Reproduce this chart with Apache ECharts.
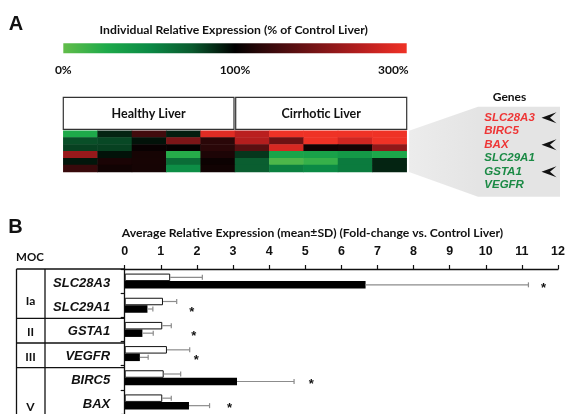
<!DOCTYPE html>
<html>
<head>
<meta charset="utf-8">
<script src="https://cdn.jsdelivr.net/npm/echarts@6/dist/echarts.min.js"></script>
<style>
  html, body { margin: 0; padding: 0; background: #fff; }
  #chart { width: 568px; height: 414px; }
</style>
</head>
<body>
<div id="chart"></div>
<script>
// ---- Panel A: individual relative expression (% of control liver) ----
const samples = ['H1', 'H2', 'H3', 'H4', 'H5', 'C1', 'C2', 'C3', 'C4', 'C5'];
const heatGenes = ['SLC28A3', 'BIRC5', 'BAX', 'SLC29A1', 'GSTA1', 'VEGFR'];
const heatValues = [
  [25, 90, 150, 92, 285, 250, 300, 300, 300, 300],   // SLC28A3
  [78, 80, 95, 198, 130, 245, 185, 300, 270, 300],   // BIRC5
  [82, 82, 106, 104, 130, 170, 275, 112, 115, 215],  // BAX
  [222, 95, 115, 22, 120, 85, 30, 32, 38, 27],       // SLC29A1
  [94, 118, 116, 65, 108, 73, 8, 16, 58, 90],        // GSTA1
  [142, 112, 115, 47, 112, 73, 55, 50, 58, 90]       // VEGFR
];
const scaleTickValues = [0, 100, 300];
const scaleTickLabels = ['0%', '100%', '300%'];
// colour ramp, evenly spaced from 0 to 300 %
const scaleColors = ['#62bd4a', '#1eaa4a', '#0b8a45', '#0a5a2e', '#000000', '#240607', '#420b0d',
                     '#601012', '#7e1517', '#9c1a1b', '#ba1f1f', '#d62822', '#ef3226'];
const geneListRed = ['SLC28A3', 'BIRC5', 'BAX'];
const geneListGreen = ['SLC29A1', 'GSTA1', 'VEGFR'];
const markedGenes = ['SLC28A3', 'BAX', 'GSTA1'];

// ---- Panel B: average relative expression (fold-change vs. control liver) ----
const barGenes = ['SLC28A3', 'SLC29A1', 'GSTA1', 'VEGFR', 'BIRC5', 'BAX'];
const healthyMean = [1.26, 1.06, 1.04, 1.17, 1.08, 1.04];
const healthySD = [0.89, 0.38, 0.25, 0.63, 0.47, 0.25];
const cirrhoticMean = [6.67, 0.63, 0.49, 0.42, 3.11, 1.78];
const cirrhoticSD = [4.51, 0.15, 0.30, 0.23, 1.58, 0.57];
const starX = [11.6, 1.86, 1.91, 1.98, 5.17, 2.90];
const axisTicks = [0, 12, 1];
const mocLabels = ['Ia', 'II', 'III', 'V'];
const mocGroupEnds = [2, 3, 4];   // row index where a new MOC group starts

// ---- layout ----
const HEAD = 'Lato, "Open Sans", sans-serif';
const ARIAL = '"Liberation Sans", Arial, sans-serif';
const heatBox = { left: 63.3, top: 130.7, width: 343.4, height: 41.3 };
const barBox = { left: 124.7, top: 269, width: 435.6, height: 148 };
const BAR_W = 7.5;
const band = barBox.height / barGenes.length;

const chart = echarts.init(document.getElementById('chart'), null, { renderer: 'canvas' });

// colour-bar gradient: 0-100 % fills the left half, 100-300 % the right half
function scaleFrac(v) { return v <= 100 ? v / 200 : 0.5 + (v - 100) / 400; }
const gradStops = scaleColors.map((c, i) => ({
  offset: scaleFrac(i * 300 / (scaleColors.length - 1)), color: c
}));

const heatData = [];
heatValues.forEach((row, r) => row.forEach((v, c) => heatData.push([c, r, v])));

function errorBars(sign) {
  return function (params, api) {
    const idx = api.value(1);
    const a = api.coord([api.value(0), idx]);
    const b = api.coord([api.value(2), idx]);
    const y = a[1] + sign * BAR_W / 2;
    const st = { stroke: '#8c8c8c', lineWidth: 1.2 };
    return {
      type: 'group', children: [
        { type: 'line', shape: { x1: a[0], y1: y, x2: b[0], y2: y }, style: st },
        { type: 'line', shape: { x1: b[0], y1: y - 2.5, x2: b[0], y2: y + 2.5 }, style: st }
      ]
    };
  };
}

const g = [];
const txt = (text, x, y, font, fill, align) => g.push({
  type: 'text', x, y, silent: true,
  style: { text, font, fill: fill || '#111', align: align || 'center', verticalAlign: 'middle' }
});

// panel letters
txt('A', 16, 24.7, 'bold 20px ' + ARIAL, '#111');
txt('B', 15.5, 227, 'bold 20px ' + ARIAL, '#111');

// colour scale
txt('Individual Relative Expression (% of Control Liver)', 233.7, 30, 'bold 12.2px ' + HEAD);
g.push({
  type: 'rect', silent: true,
  shape: { x: heatBox.left, y: 43.3, width: heatBox.width, height: 10 },
  style: { fill: new echarts.graphic.LinearGradient(0, 0, 1, 0, gradStops) }
});
scaleTickValues.forEach((v, i) => {
  const f = scaleFrac(v);
  const x = heatBox.left + f * heatBox.width + (f === 1 ? 2 : 0);
  txt(scaleTickLabels[i], x, 70, 'bold 12px ' + HEAD, '#111', f === 1 ? 'right' : 'center');
});

// group boxes above the heat map
const half = heatBox.width / 2;
[['Healthy Liver', heatBox.left, half - 1], ['Cirrhotic Liver', heatBox.left + half + 0.7, half - 0.7]]
  .forEach(([label, x, w]) => {
    g.push({ type: 'rect', silent: true, shape: { x, y: 97.3, width: w, height: 32 },
      style: { fill: '#fff', stroke: '#333', lineWidth: 1.2 } });
    txt(label, x + w / 2, 114, 'bold 12.5px ' + HEAD);
  });

// gene key callout
const hb = heatBox.top + heatBox.height;
g.push({ type: 'polygon', silent: true,
  shape: { points: [[409, heatBox.top], [478, 106.7], [478, 196.7], [409, hb]] },
  style: { fill: new echarts.graphic.LinearGradient(0, 0, 1, 0,
    [{ offset: 0, color: '#ececec' }, { offset: 1, color: '#e4e4e4' }]) } });
g.push({ type: 'rect', silent: true, shape: { x: 478, y: 106.7, width: 82, height: 90 },
  style: { fill: '#e4e4e4' } });
txt('Genes', 509.5, 97, 'bold 12px ' + HEAD);
const keyGenes = geneListRed.concat(geneListGreen);
keyGenes.forEach((name, i) => {
  const y = 117.8 + i * 13.5;
  txt(name, 484.3, y, 'italic bold 11.5px ' + ARIAL,
      geneListRed.includes(name) ? '#ee3535' : '#1b8a45', 'left');
  if (markedGenes.includes(name)) {
    g.push({ type: 'polygon', silent: true,
      shape: { points: [[541.5, y], [556.5, y - 5.5], [550, y], [556.5, y + 5.5]] },
      style: { fill: '#111' } });
  }
});

// panel B headings
txt('Average Relative Expression (mean±SD) (Fold-change vs. Control Liver)', 121.7, 233.5,
    'bold 12.2px ' + HEAD, '#111', 'left');
txt('MOC', 30, 257.5, 'bold 11.5px ' + HEAD);

// MOC table left of the bar chart
const tl = 16.5, tr = barBox.left;
const lineSt = { stroke: '#111', lineWidth: 1.3 };
g.push({ type: 'line', silent: true, shape: { x1: tl, y1: barBox.top, x2: tr, y2: barBox.top }, style: lineSt });
g.push({ type: 'line', silent: true, shape: { x1: tl, y1: barBox.top, x2: tl, y2: 420 }, style: lineSt });
g.push({ type: 'line', silent: true, shape: { x1: 45, y1: barBox.top, x2: 45, y2: 420 }, style: lineSt });
mocGroupEnds.forEach(k => {
  const y = barBox.top + k * band;
  g.push({ type: 'line', silent: true, shape: { x1: tl, y1: y, x2: tr, y2: y }, style: lineSt });
});
const mocY = [301, 331.7, 356.7, 406.7];
mocLabels.forEach((m, i) => txt(m, 30.5, mocY[i], 'bold 12px ' + HEAD));

chart.setOption({
  animation: false,
  backgroundColor: '#fff',
  grid: [
    { left: heatBox.left, top: heatBox.top, width: heatBox.width, height: heatBox.height },
    { left: barBox.left, top: barBox.top, width: barBox.width, height: barBox.height }
  ],
  xAxis: [
    { gridIndex: 0, type: 'category', data: samples, show: false },
    {
      gridIndex: 1, type: 'value', position: 'top',
      min: axisTicks[0], max: axisTicks[1], interval: axisTicks[2],
      axisLine: { show: true, lineStyle: { color: '#111', width: 1.3 } },
      axisTick: { show: true, length: 4, lineStyle: { color: '#111', width: 1.2 } },
      axisLabel: { margin: 11, color: '#111', fontWeight: 'bold', fontSize: 12.5, fontFamily: ARIAL },
      splitLine: { show: false }
    }
  ],
  yAxis: [
    { gridIndex: 0, type: 'category', data: heatGenes, inverse: true, show: false },
    {
      gridIndex: 1, type: 'category', data: barGenes, inverse: true,
      axisLine: { show: true, lineStyle: { color: '#111', width: 1.3 } },
      axisTick: { show: true, length: 4, lineStyle: { color: '#111', width: 1.2 } },
      axisLabel: { show: false }
    }
  ],
  visualMap: {
    show: false, type: 'continuous', seriesIndex: 0, dimension: 2,
    min: 0, max: 300, inRange: { color: scaleColors }
  },
  graphic: { elements: g },
  series: [
    {
      type: 'heatmap', xAxisIndex: 0, yAxisIndex: 0, data: heatData,
      itemStyle: { borderWidth: 0 }, emphasis: { disabled: true }
    },
    {
      name: 'Healthy Liver', type: 'bar', xAxisIndex: 1, yAxisIndex: 1, data: healthyMean,
      barWidth: BAR_W, barGap: '0%',
      itemStyle: { color: '#fff', borderColor: '#111', borderWidth: 1 }
    },
    {
      name: 'Cirrhotic Liver', type: 'bar', xAxisIndex: 1, yAxisIndex: 1, data: cirrhoticMean,
      barWidth: BAR_W, barGap: '0%',
      itemStyle: { color: '#000', borderColor: '#000', borderWidth: 0 }
    },
    {
      type: 'custom', xAxisIndex: 1, yAxisIndex: 1, renderItem: errorBars(-1),
      encode: { x: [0, 2], y: 1 }, z: 3,
      data: healthyMean.map((m, i) => [m, i, m + healthySD[i]])
    },
    {
      type: 'custom', xAxisIndex: 1, yAxisIndex: 1, renderItem: errorBars(1),
      encode: { x: [0, 2], y: 1 }, z: 3,
      data: cirrhoticMean.map((m, i) => [m, i, m + cirrhoticSD[i]])
    },
    {
      type: 'custom', xAxisIndex: 1, yAxisIndex: 1, encode: { x: 0, y: 1 },
      data: starX.map((x, i) => [x, i]),
      renderItem: function (params, api) {
        const p = api.coord([api.value(0), api.value(1)]);
        return { type: 'text', x: p[0], y: p[1] + 7,
          style: { text: '*', font: 'bold 13px ' + ARIAL, fill: '#111', align: 'center', verticalAlign: 'middle' } };
      }
    }
  ]
});

// gene names beside the bar axis, placed from the category scale, sitting slightly low in each band
const geneLabels = barGenes.map((name, i) => {
  const y = chart.convertToPixel({ yAxisIndex: 1 }, i);
  return {
    type: 'text', x: barBox.left - 14.5, y: y + 2.5, silent: true,
    style: { text: name, font: 'italic bold 13px ' + ARIAL, fill: '#111', align: 'right', verticalAlign: 'middle' }
  };
});
chart.setOption({ graphic: { elements: g.concat(geneLabels) } });
</script>
</body>
</html>
